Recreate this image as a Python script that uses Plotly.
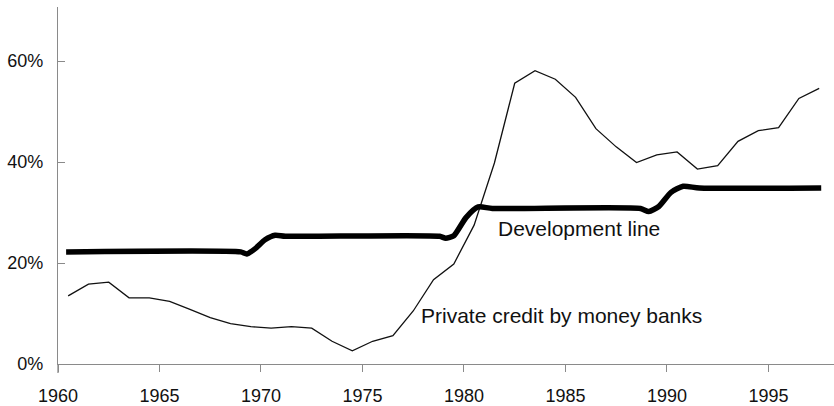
import plotly.graph_objects as go

# Private credit by money banks (% of GDP), annual values
years = list(range(1960, 1998))
private_credit = [13.5, 15.8, 16.2, 13.1, 13.1, 12.4, 10.8, 9.2, 8.0, 7.4,
                  7.1, 7.4, 7.1, 4.5, 2.6, 4.5, 5.6, 10.5, 16.7, 19.8,
                  27.5, 39.8, 55.6, 58.1, 56.4, 52.8, 46.6, 43.0, 39.9, 41.4,
                  42.0, 38.6, 39.3, 44.1, 46.2, 46.8, 52.6, 54.6]

# Development line (smoothed step)
dev_years = [1960.4, 1969.0, 1969.3, 1969.7, 1970.2, 1970.7, 1971.2, 1978.8,
             1979.1, 1979.5, 1980.1, 1980.7, 1981.4, 1988.7, 1989.1, 1989.6,
             1990.2, 1990.8, 1991.6, 1997.6]
dev_values = [22.2, 22.2, 21.8, 22.8, 24.6, 25.5, 25.3, 25.3,
              24.9, 25.4, 29.0, 31.1, 30.8, 30.8, 30.2, 31.2,
              34.0, 35.2, 34.85, 34.85]

y_ticks = [0, 20, 40, 60]
y_tick_text = ["0%", "20%", "40%", "60%"]
x_ticks = [1960, 1965, 1970, 1975, 1980, 1985, 1990, 1995]

FONT = "Liberation Sans, Arial, Helvetica, sans-serif"
AXIS = "#8a8a8a"

fig = go.Figure()
fig.add_trace(go.Scatter(
    x=[y + 0.5 for y in years], y=private_credit, mode="lines",
    line=dict(color="#111111", width=1.3), hoverinfo="skip"))
fig.add_trace(go.Scatter(
    x=dev_years, y=dev_values, mode="lines",
    line=dict(color="#000000", width=5.5, shape="spline", smoothing=0.6),
    hoverinfo="skip"))

fig.add_annotation(x=1981.6, y=26.8, xref="x", yref="y", text="Development line",
                   showarrow=False, xanchor="left", yanchor="middle",
                   font=dict(family=FONT, size=21, color="#111111"))
fig.add_annotation(x=1977.77, y=9.6, xref="x", yref="y",
                   text="Private credit by money banks",
                   showarrow=False, xanchor="left", yanchor="middle",
                   font=dict(family=FONT, size=21, color="#111111"))

# small downward extension of the y-axis line below the baseline
fig.add_shape(type="line", xref="x domain", yref="y domain",
              x0=0, x1=0, y0=0, y1=-0.025,
              line=dict(color=AXIS, width=1.3))

fig.update_layout(
    width=834, height=406,
    margin=dict(l=58, r=0, t=7, b=42, pad=0),
    paper_bgcolor="white", plot_bgcolor="white",
    showlegend=False,
    font=dict(family=FONT, size=18, color="#111111"),
    xaxis=dict(range=[1960, 1998.23], tickvals=x_ticks, ticks="outside",
               ticklen=7, tickcolor=AXIS, tickwidth=1,
               showline=True, linecolor=AXIS, linewidth=1.3,
               showgrid=False, zeroline=False, ticklabelstandoff=8,
               tickfont=dict(family=FONT, size=18, color="#111111")),
    yaxis=dict(range=[0, 70.7], tickvals=y_ticks, ticktext=y_tick_text,
               ticks="inside", ticklen=7, tickcolor=AXIS, tickwidth=1,
               showline=True, linecolor=AXIS, linewidth=1.3,
               showgrid=False, zeroline=False, ticklabelstandoff=10,
               tickfont=dict(family=FONT, size=18, color="#111111")),
)

fig.write_html("out.html", config={"displayModeBar": False},
               post_script="document.body.style.margin='0';")
